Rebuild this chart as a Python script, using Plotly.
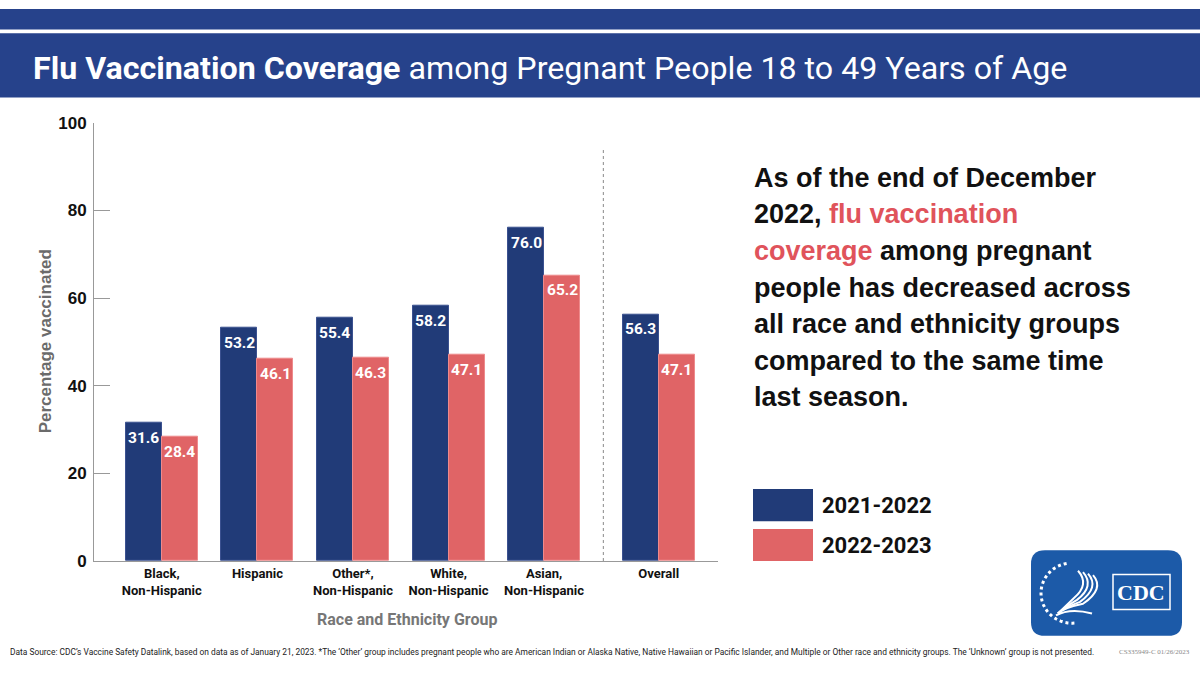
import math
import plotly.graph_objects as go

# ---------------- data ----------------
groups = ["Black,<br>Non-Hispanic", "Hispanic", "Other*,<br>Non-Hispanic",
          "White,<br>Non-Hispanic", "Asian,<br>Non-Hispanic", "Overall"]
group_pos = [0, 1, 2, 3, 4, 5.2]
season_2021_22 = [31.6, 53.2, 55.4, 58.2, 76.0, 56.3]
season_2022_23 = [28.4, 46.1, 46.3, 47.1, 65.2, 47.1]
series_names = ["2021-2022", "2022-2023"]
y_ticks = [0, 20, 40, 60, 80, 100]
divider_pos = 4.62

BLUE = "#213b78"
RED = "#e06466"
HEADER = "#26428b"
NARROW = "Roboto, Liberation Sans, sans-serif"
SANS = "Liberation Sans, Arial, Helvetica, sans-serif"

W, H = 1200, 675
def px(x):
    return x / W
def py(y):
    return 1 - y / H

BW = 0.377

fig = go.Figure()
fig.add_trace(go.Bar(x=group_pos, y=season_2021_22, name=series_names[0],
                     width=BW, offset=-BW, marker=dict(color=BLUE, line=dict(color="#3b5190", width=1)),
                     showlegend=False, hoverinfo="y"))
fig.add_trace(go.Bar(x=group_pos, y=season_2022_23, name=series_names[1],
                     width=BW, offset=0, marker=dict(color=RED, line=dict(color="#ee8a8c", width=1)),
                     showlegend=False, hoverinfo="y"))

annotations = []
for vals, sh in ((season_2021_22, -BW / 2), (season_2022_23, BW / 2)):
    for xp, v in zip(group_pos, vals):
        annotations.append(dict(x=xp + sh, y=v, xref="x", yref="y", text=f"<b>{v:.1f}</b>",
                                showarrow=False, yshift=-15, yanchor="middle",
                                font=dict(family=NARROW, size=15.5, color="white")))

shapes = []
shapes.append(dict(type="rect", xref="paper", yref="paper", x0=0, x1=1, y0=py(21), y1=py(0),
                   fillcolor=HEADER, line=dict(width=0), layer="below"))
shapes.append(dict(type="rect", xref="paper", yref="paper", x0=0, x1=1, y0=py(91), y1=py(25),
                   fillcolor=HEADER, line=dict(width=0), layer="below"))
shapes.append(dict(type="line", xref="x", yref="y", x0=divider_pos, x1=divider_pos, y0=0, y1=94,
                   line=dict(color="#888888", width=1, dash="dot")))

annotations.append(dict(xref="paper", yref="paper", x=px(31), y=py(61), xanchor="left", yanchor="middle",
                        showarrow=False,
                        text="<b>Flu Vaccination Coverage</b> among Pregnant People 18 to 49 Years of Age",
                        font=dict(family=NARROW, size=32.2, color="white")))

annotations.append(dict(xref="paper", yref="paper", x=px(45), y=py(342), xanchor="center", yanchor="middle",
                        showarrow=False, textangle=-90, text="<b>Percentage vaccinated</b>",
                        font=dict(family=SANS, size=17, color="#6b6b6b")))
annotations.append(dict(xref="paper", yref="paper", x=px(407), y=py(628), xanchor="center", yanchor="middle",
                        showarrow=False, text="<b>Race and Ethnicity Group</b>",
                        font=dict(family=NARROW, size=16, color="#777777")))

RC = "#e0535b"
lines = [
    "As of the end of December",
    f"2022, <span style='color:{RC}'>flu vaccination</span>",
    f"<span style='color:{RC}'>coverage</span> among pregnant",
    "people has decreased across",
    "all race and ethnicity groups",
    "compared to the same time",
    "last season.",
]
for i, t in enumerate(lines):
    annotations.append(dict(xref="paper", yref="paper", x=px(752), y=py(173.5 + 37.7 * i),
                            xanchor="left", yanchor="middle", showarrow=False,
                            text=f"<b>{t}</b>", font=dict(family=SANS, size=27, color="#111111")))

for i, (nm, col) in enumerate(zip(series_names, [BLUE, RED])):
    y0 = 494 + 41 * i
    shapes.append(dict(type="rect", xref="paper", yref="paper", x0=px(753), x1=px(813),
                       y0=py(y0 + 33), y1=py(y0), fillcolor=col, line=dict(width=0)))
    annotations.append(dict(xref="paper", yref="paper", x=px(820), y=py(y0 + 17), xanchor="left",
                            yanchor="middle", showarrow=False, text=f"<b>{nm}</b>",
                            font=dict(family=NARROW, size=22, color="#111111")))

annotations.append(dict(xref="paper", yref="paper", x=px(8), y=py(662), xanchor="left", yanchor="middle",
                        showarrow=False,
                        text="Data Source: CDC\u2019s Vaccine Safety Datalink, based on data as of January 21, 2023. "
                             "*The \u2018Other\u2019 group includes pregnant people who are American Indian or Alaska Native, "
                             "Native Hawaiian or Pacific Islander, and Multiple or Other race and ethnicity groups. "
                             "The \u2018Unknown\u2019 group is not presented.",
                        font=dict(family=NARROW, size=8.4, color="#222222")))
annotations.append(dict(xref="paper", yref="paper", x=px(1192), y=py(662), xanchor="right", yanchor="middle",
                        showarrow=False, text="CS335949-C 01/26/2023",
                        font=dict(family="Liberation Serif, serif", size=7, color="#888888")))

LOGO = "#1c5aa8"
x0, x1, y0, y1, r = 1031, 1182, 557, 645, 14
path = (f"M {px(x0+r)},{py(y0)} L {px(x1-r)},{py(y0)} Q {px(x1)},{py(y0)} {px(x1)},{py(y0+r)} "
        f"L {px(x1)},{py(y1-r)} Q {px(x1)},{py(y1)} {px(x1-r)},{py(y1)} L {px(x0+r)},{py(y1)} "
        f"Q {px(x0)},{py(y1)} {px(x0)},{py(y1-r)} L {px(x0)},{py(y0+r)} Q {px(x0)},{py(y0)} {px(x0+r)},{py(y0)} Z")
shapes.append(dict(type="path", xref="paper", yref="paper", path=path, fillcolor=LOGO, line=dict(width=0)))
shapes.append(dict(type="rect", xref="paper", yref="paper", x0=px(1113), x1=px(1170), y0=py(618), y1=py(582),
                   line=dict(color="white", width=1.5)))
annotations.append(dict(xref="paper", yref="paper", x=px(1141), y=py(600), xanchor="center", yanchor="middle",
                        showarrow=False, text="<b>CDC</b>",
                        font=dict(family="Liberation Serif, DejaVu Serif, serif", size=22, color="white")))
pts = []
cx, cy, rad = 1072, 601, 31
for k in range(0, 41):
    a = math.radians(100 + k * 4.5)
    pts.append((cx + rad * math.cos(a), cy - rad * math.sin(a)))
arc = "M " + " L ".join(f"{px(a)},{py(b)}" for a, b in pts)
shapes.append(dict(type="path", xref="paper", yref="paper", path=arc,
                   line=dict(color="white", width=3, dash="dot")))
for k in range(4):
    d = k * 5
    wing = (f"M {px(1078+d)},{py(578+d*0.3)} Q {px(1090+d)},{py(592+d*0.3)} {px(1074+d*0.6)},{py(606+d*0.4)} "
            f"Q {px(1064)},{py(616)} {px(1058)},{py(622)}")
    shapes.append(dict(type="path", xref="paper", yref="paper", path=wing, line=dict(color="white", width=2)))
shapes.append(dict(type="path", xref="paper", yref="paper",
                   path=f"M {px(1056)},{py(624)} Q {px(1070)},{py(616)} {px(1092)},{py(622)}",
                   line=dict(color="white", width=2)))

fig.update_layout(
    width=W, height=H,
    margin=dict(l=0, r=0, t=0, b=0),
    paper_bgcolor="white", plot_bgcolor="white",
    shapes=shapes, annotations=annotations,
    bargap=0,
    xaxis=dict(domain=[px(94), px(718)], range=[-0.71, 5.82], tickvals=group_pos,
               ticktext=[f"<b>{g}</b>" for g in groups], tickangle=0,
               tickfont=dict(family=NARROW, size=13, color="#111111"), showline=True, linecolor="#999999",
               linewidth=1, showgrid=False, zeroline=False, ticks="", fixedrange=True),
    yaxis=dict(domain=[py(568), py(117)], range=[0, 100], tickvals=y_ticks,
               tickfont=dict(family=SANS, size=17, color="#111111", weight="bold"),
               showline=True, linecolor="#999999", linewidth=1, ticks="inside", ticklen=16,
               tickcolor="#999999", tickwidth=1, showgrid=False, zeroline=False, ticklabelstandoff=3,
               fixedrange=True),
)

post = ("document.body.style.margin='0';document.body.style.padding='0';"
        "var d=document.getElementById('{plot_id}');d.style.position='fixed';d.style.left='0px';d.style.top='0px';")
fig.write_html("out.html", post_script=post, config={"displayModeBar": False})
